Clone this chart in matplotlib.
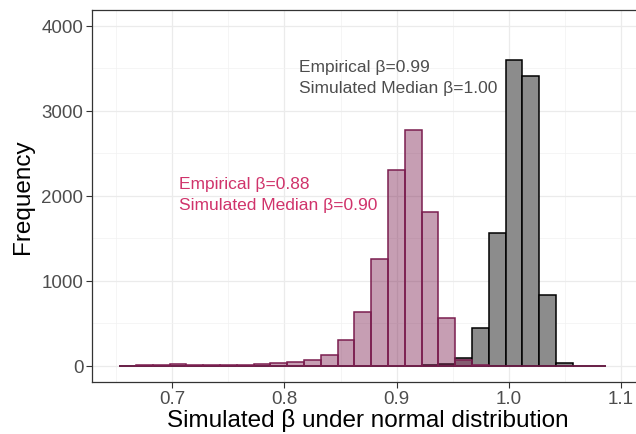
import numpy as np
import matplotlib
matplotlib.use("Agg")
import matplotlib.pyplot as plt
from matplotlib.ticker import MultipleLocator

# histogram bins (shared by both series)
bin_start = 0.6528
bin_width = 0.01497

# counts per bin
counts_normal_sim = [2, 3, 8, 22, 6, 4, 12, 12, 18, 30, 48, 68, 130, 302, 628,
                     1255, 2306, 2776, 1808, 565, 65, 8, 2, 0, 0, 0, 0, 0, 0]
counts_empirical_sim = [0, 0, 0, 0, 0, 0, 0, 0, 0, 0, 0, 0, 0, 0, 0,
                        0, 0, 0, 3, 25, 92, 443, 1558, 3600, 3412, 831, 32, 0, 0]

x_ticks = [0.7, 0.8, 0.9, 1.0, 1.1]
y_ticks = [0, 1000, 2000, 3000, 4000]

label_grey = ["Empirical β=0.99", "Simulated Median β=1.00"]
label_pink = ["Empirical β=0.88", "Simulated Median β=0.90"]

pink_edge = "#7b1e4f"
pink_text = "#d0336b"

plt.rcParams['font.family'] = ['Liberation Sans', 'DejaVu Sans']

fig = plt.figure(figsize=(6.36, 4.35), dpi=100)
ax = fig.add_axes([0.1442, 0.1202, 0.8684, 0.8552])

edges = bin_start + bin_width * np.arange(len(counts_normal_sim))

# grey histogram first, pink one drawn over it
ax.bar(edges, counts_empirical_sim, width=bin_width, align='edge',
       color="#8c8c8c", edgecolor="black", linewidth=1.1, zorder=2)
ax.bar(edges, counts_normal_sim, width=bin_width, align='edge',
       color=pink_edge, alpha=0.43, edgecolor="none", zorder=3)
ax.bar(edges, counts_normal_sim, width=bin_width, align='edge',
       fill=False, edgecolor=pink_edge, linewidth=1.1, zorder=4)

ax.set_xlim(0.6282, 1.1205)
ax.set_ylim(-188, 4188)
ax.set_xticks(x_ticks)
ax.set_xticklabels(["0.7", "0.8", "0.9", "1.0", "1.1"])
ax.set_yticks(y_ticks)
ax.xaxis.set_minor_locator(MultipleLocator(0.05))
ax.yaxis.set_minor_locator(MultipleLocator(500))

ax.grid(which='major', color="#ebebeb", linewidth=0.9, zorder=0)
ax.grid(which='minor', color="#f2f2f2", linewidth=0.5, zorder=0)
ax.set_axisbelow(True)
ax.tick_params(which='minor', length=0)
ax.tick_params(which='major', length=4, width=0.8, color="#333333",
               labelcolor="#4d4d4d", labelsize=13.5, pad=2)
for s in ax.spines.values():
    s.set_color("#333333")
    s.set_linewidth(0.9)

ax.set_xlabel("Simulated β under normal distribution", fontsize=17.5, labelpad=1)
ax.set_ylabel("Frequency", fontsize=17.5, labelpad=5)

# annotations
ax.text(0.8127, 3464, label_grey[0], color="#4d4d4d", fontsize=12.5, va='baseline')
ax.text(0.8127, 3216, label_grey[1], color="#4d4d4d", fontsize=12.5, va='baseline')
ax.text(0.7058, 2087, label_pink[0], color=pink_text, fontsize=12.5, va='baseline')
ax.text(0.7058, 1840, label_pink[1], color=pink_text, fontsize=12.5, va='baseline')

fig.savefig("out.png", dpi=100)
